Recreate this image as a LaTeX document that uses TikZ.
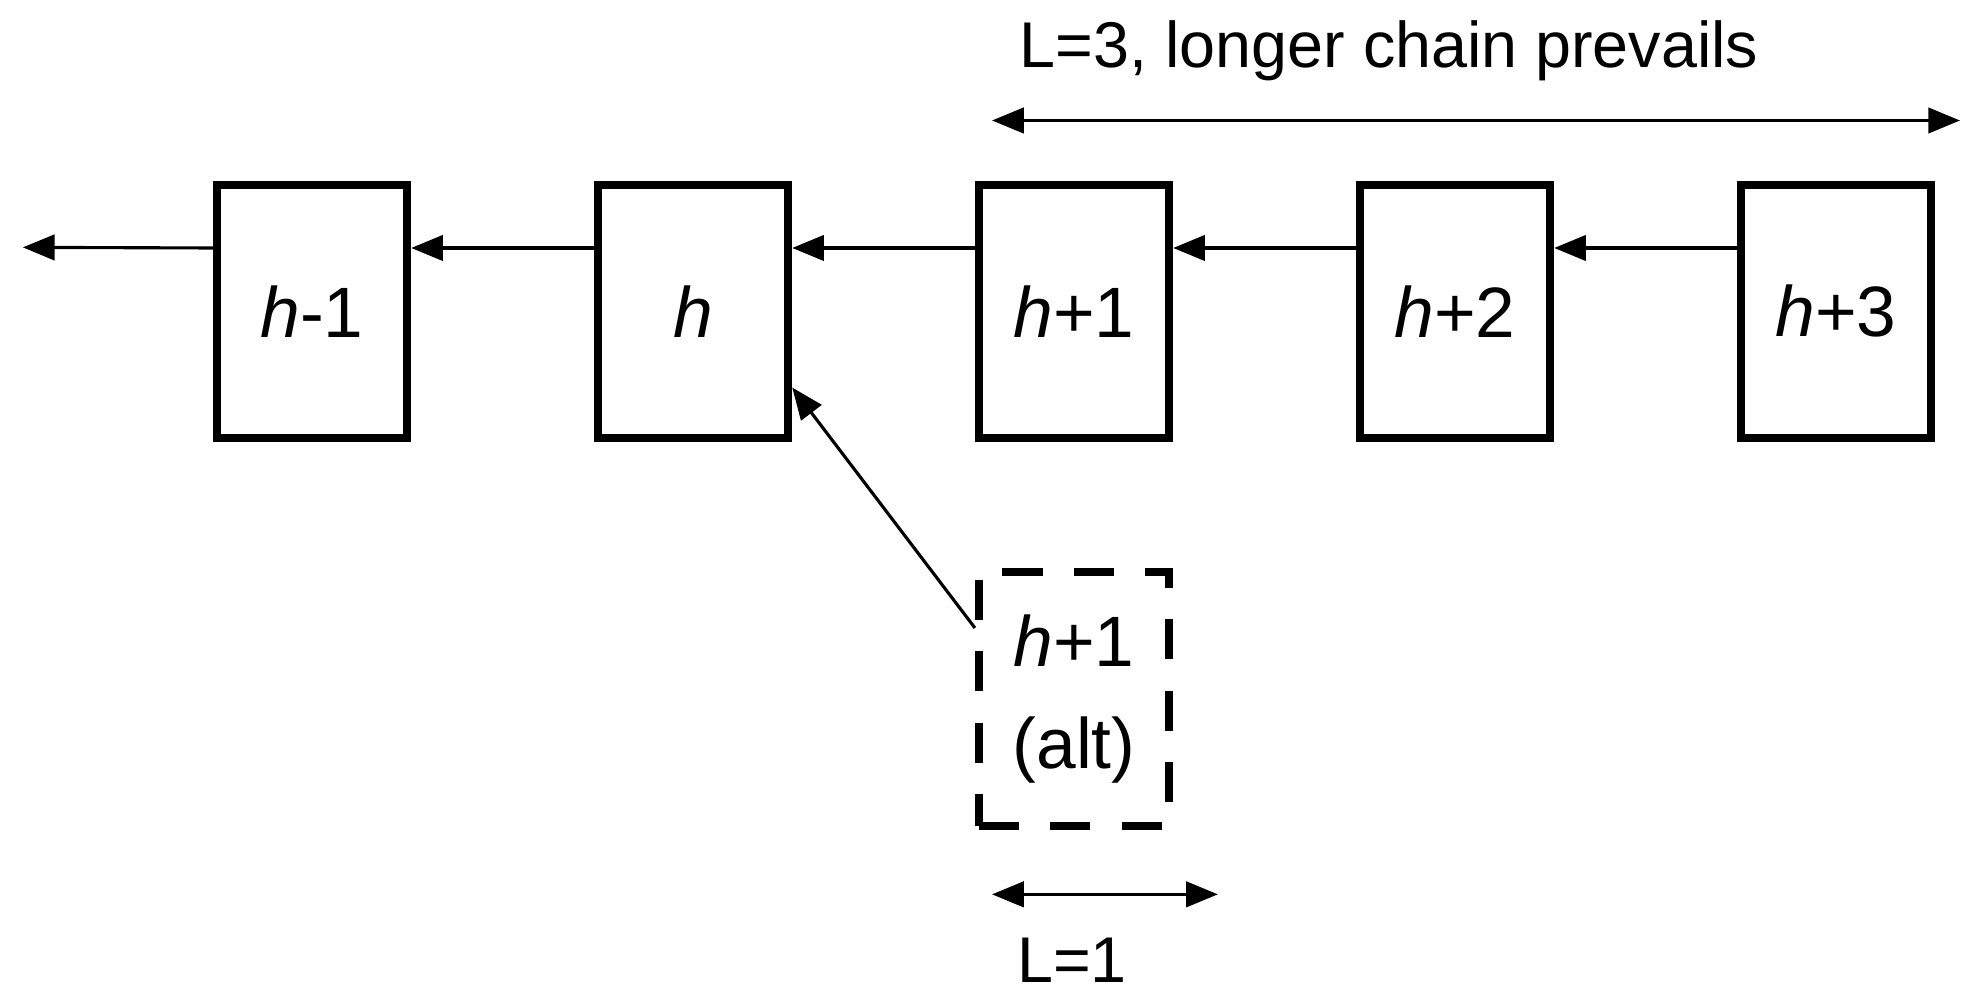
\documentclass[tikz,border=0pt]{standalone}
\usepackage{fontspec}
\setmainfont{Liberation Sans}
\usetikzlibrary{arrows.meta,positioning}
\begin{document}
\begin{tikzpicture}[
       node distance=1.44cm,
       block/.style={rectangle, draw=black, line width=1.8pt, minimum width=1.5cm, minimum height=2.0cm, align=center, font=\fontsize{16}{23}\selectfont, inner sep=0pt},
       altblock/.style={block, dash pattern=on 9pt off 7pt},
       arrow/.style={-{Triangle[length=0.25cm,width=0.2cm]}, line width=0.7pt, black},
       span/.style={{Triangle[length=0.25cm,width=0.2cm]}-{Triangle[length=0.25cm,width=0.2cm]}, line width=0.7pt, black},
       lbl/.style={font=\fontsize{14.5}{18}\selectfont}
   ]
   \useasboundingbox (0,0) rectangle (15.6,7.89);
   \node[block] (hm1) at (2.46,5.435) {\textit{h}-1};
   \node[block, right=of hm1] (h) {\textit{h}};
   \node[block, right=of h] (hp1) {\textit{h}+1};
   \node[block, right=of hp1] (hp2) {\textit{h}+2};
   \node[block, right=of hp2] (hp3) {\textit{h}+3};
   \node[altblock] (alt) at (hp1.center |- 0,2.38) {\textit{h}+1\\(alt)};
   \coordinate (genesis) at (0.18,5.94);

   \draw[arrow] ([yshift=0.5cm]hm1.west) -- (genesis);
   \draw[arrow] ([yshift=0.5cm]h.west) -- ([yshift=0.5cm]hm1.east);
   \draw[arrow] ([yshift=0.5cm]hp1.west) -- ([yshift=0.5cm]h.east);
   \draw[arrow] ([yshift=0.5cm]hp2.west) -- ([yshift=0.5cm]hp1.east);
   \draw[arrow] ([yshift=0.5cm]hp3.west) -- ([yshift=0.5cm]hp2.east);
   \draw[arrow] ([yshift=0.56cm]alt.west) -- ([yshift=-0.6cm]h.east);

   % chain lengths
   \coordinate (longL) at (7.82,6.94);
   \coordinate (longR) at (15.45,6.94);
   \coordinate (shortL) at (7.82,0.84);
   \coordinate (shortR) at (9.6,0.84);
   \draw[span] (longL) -- (longR);
   \draw[span] (shortL) -- (shortR);
   \node[lbl] (longtxt) at (10.95,7.49) {L=3, longer chain prevails};
   \node[lbl] (shorttxt) at (8.45,0.32) {L=1};
\end{tikzpicture}
\end{document}
